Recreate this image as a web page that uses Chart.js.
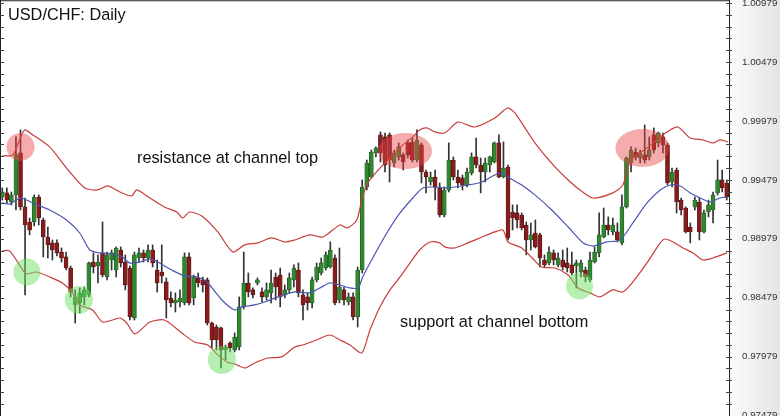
<!DOCTYPE html>
<html>
<head>
<meta charset="utf-8">
<script src="https://cdn.jsdelivr.net/npm/chart.js@4.4.1/dist/chart.umd.min.js"></script>
<style>
  html, body { margin: 0; padding: 0; background: #fff; }
  #wrap { width: 780px; height: 416px; position: relative; }
</style>
</head>
<body>
<div id="wrap"><canvas id="chart"></canvas></div>
<script>
// ── Daily candles (USD/CHF), one entry per day ────────────────────
const open = [
  0.99333, 0.99368, 0.99291, 0.99351, 0.99707, 0.99249, 0.99121, 0.99121, 0.99333, 0.99138,
  0.98994, 0.98944, 0.98944, 0.98867, 0.98825, 0.98731, 0.98418, 0.98435, 0.98486, 0.98503,
  0.98782, 0.98748, 0.98859, 0.98655, 0.98799, 0.98714, 0.98884, 0.98782, 0.98731, 0.98307,
  0.98816, 0.98859, 0.98816, 0.98884, 0.98714, 0.98697, 0.98613, 0.98477, 0.98435, 0.98443,
  0.98435, 0.98825, 0.98477, 0.98647, 0.98630, 0.98630, 0.98265, 0.98231, 0.98223, 0.98036,
  0.98095, 0.98036, 0.98061, 0.98401, 0.98604, 0.98545, 0.98604, 0.98528, 0.98486, 0.98520,
  0.98655, 0.98672, 0.98503, 0.98545, 0.98630, 0.98714, 0.98503, 0.98486, 0.98435, 0.98630,
  0.98689, 0.98731, 0.98740, 0.98816, 0.98460, 0.98545, 0.98443, 0.98486, 0.98316, 0.98714,
  0.99418, 0.99503, 0.99707, 0.99860, 0.99843, 0.99860, 0.99622, 0.99673, 0.99690, 0.99792,
  0.99800, 0.99647, 0.99775, 0.99545, 0.99461, 0.99503, 0.99410, 0.99181, 0.99393, 0.99647,
  0.99503, 0.99495, 0.99435, 0.99537, 0.99673, 0.99605, 0.99545, 0.99605, 0.99630, 0.99792,
  0.99503, 0.99588, 0.99206, 0.99198, 0.99181, 0.99096, 0.98969, 0.99028, 0.99012, 0.98799,
  0.98774, 0.98859, 0.98757, 0.98799, 0.98774, 0.98757, 0.98748, 0.98697, 0.98714, 0.98630,
  0.98782, 0.98859, 0.98994, 0.99096, 0.99037, 0.99037, 0.98944, 0.99249, 0.99622, 0.99715,
  0.99664, 0.99690, 0.99673, 0.99860, 0.99792, 0.99843, 0.99775, 0.99461, 0.99562, 0.99308,
  0.99240, 0.99079, 0.99249, 0.99291, 0.99037, 0.99206, 0.99223, 0.99368, 0.99478, 0.99452
];
const high = [
  0.99410, 0.99410, 0.99376, 0.99843, 0.99902, 0.99325, 0.99155, 0.99351, 0.99351, 0.99155,
  0.99079, 0.98969, 0.98969, 0.98901, 0.98867, 0.98748, 0.98545, 0.98562, 0.98570, 0.98782,
  0.98859, 0.98842, 0.99121, 0.98867, 0.98884, 0.98910, 0.98910, 0.98842, 0.98748, 0.98867,
  0.98901, 0.98884, 0.98927, 0.98927, 0.98799, 0.98927, 0.98647, 0.98528, 0.98520, 0.98545,
  0.98859, 0.98859, 0.98672, 0.98689, 0.98655, 0.98647, 0.98273, 0.98248, 0.98231, 0.98078,
  0.98104, 0.98180, 0.98486, 0.98867, 0.98689, 0.98562, 0.98647, 0.98562, 0.98604, 0.98714,
  0.98689, 0.98731, 0.98587, 0.98689, 0.98757, 0.98774, 0.98545, 0.98520, 0.98655, 0.98774,
  0.98816, 0.98867, 0.98952, 0.98842, 0.98901, 0.98570, 0.98520, 0.98520, 0.98740, 0.99478,
  0.99647, 0.99732, 0.99758, 0.99885, 0.99876, 0.99876, 0.99732, 0.99792, 0.99707, 0.99817,
  0.99834, 0.99902, 0.99792, 0.99562, 0.99545, 0.99562, 0.99452, 0.99418, 0.99792, 0.99673,
  0.99562, 0.99520, 0.99579, 0.99707, 0.99834, 0.99664, 0.99664, 0.99680, 0.99800, 0.99860,
  0.99800, 0.99605, 0.99266, 0.99266, 0.99198, 0.99121, 0.99113, 0.99138, 0.99028, 0.98842,
  0.98910, 0.98884, 0.98859, 0.98884, 0.98901, 0.98867, 0.98799, 0.98799, 0.98740, 0.98867,
  0.98910, 0.99198, 0.99240, 0.99164, 0.99155, 0.99113, 0.99351, 0.99673, 0.99758, 0.99749,
  0.99732, 0.99944, 0.99843, 0.99919, 0.99885, 0.99876, 0.99792, 0.99579, 0.99579, 0.99325,
  0.99249, 0.99113, 0.99333, 0.99325, 0.99223, 0.99308, 0.99376, 0.99647, 0.99562, 0.99478
];
const low = [
  0.99308, 0.99283, 0.99266, 0.99223, 0.99223, 0.98503, 0.99012, 0.99088, 0.99096, 0.98825,
  0.98816, 0.98799, 0.98833, 0.98782, 0.98714, 0.98486, 0.98265, 0.98350, 0.98418, 0.98486,
  0.98689, 0.98604, 0.98655, 0.98630, 0.98714, 0.98655, 0.98740, 0.98545, 0.98290, 0.98290,
  0.98782, 0.98782, 0.98782, 0.98740, 0.98528, 0.98604, 0.98307, 0.98401, 0.98358, 0.98401,
  0.98418, 0.98418, 0.98418, 0.98570, 0.98528, 0.98248, 0.98053, 0.98036, 0.97883, 0.97951,
  0.98019, 0.98019, 0.98036, 0.98384, 0.98486, 0.98477, 0.98587, 0.98443, 0.98460, 0.98435,
  0.98460, 0.98401, 0.98477, 0.98520, 0.98570, 0.98486, 0.98290, 0.98375, 0.98392, 0.98613,
  0.98672, 0.98714, 0.98731, 0.98418, 0.98435, 0.98418, 0.98418, 0.98290, 0.98231, 0.98689,
  0.99393, 0.99495, 0.99673, 0.99630, 0.99545, 0.99461, 0.99588, 0.99647, 0.99562, 0.99664,
  0.99630, 0.99630, 0.99452, 0.99368, 0.99435, 0.99308, 0.99164, 0.99164, 0.99376, 0.99478,
  0.99410, 0.99393, 0.99418, 0.99520, 0.99579, 0.99368, 0.99461, 0.99545, 0.99622, 0.99495,
  0.99495, 0.98969, 0.99054, 0.99071, 0.99054, 0.98842, 0.98884, 0.98901, 0.98740, 0.98740,
  0.98757, 0.98757, 0.98740, 0.98714, 0.98697, 0.98672, 0.98562, 0.98655, 0.98613, 0.98613,
  0.98774, 0.98825, 0.98986, 0.99012, 0.99012, 0.98952, 0.98927, 0.99240, 0.99545, 0.99647,
  0.99622, 0.99622, 0.99647, 0.99707, 0.99758, 0.99707, 0.99435, 0.99418, 0.99198, 0.99181,
  0.99028, 0.98944, 0.99223, 0.98969, 0.99028, 0.99164, 0.99113, 0.99351, 0.99376, 0.99308
];
const close = [
  0.99376, 0.99308, 0.99351, 0.99690, 0.99249, 0.99096, 0.99054, 0.99333, 0.99155, 0.98994,
  0.98927, 0.98884, 0.98859, 0.98816, 0.98731, 0.98528, 0.98486, 0.98520, 0.98545, 0.98774,
  0.98740, 0.98782, 0.98672, 0.98842, 0.98859, 0.98901, 0.98774, 0.98587, 0.98316, 0.98842,
  0.98859, 0.98816, 0.98884, 0.98774, 0.98604, 0.98664, 0.98460, 0.98435, 0.98460, 0.98477,
  0.98825, 0.98435, 0.98655, 0.98604, 0.98587, 0.98265, 0.98121, 0.98121, 0.98036, 0.98061,
  0.98053, 0.98146, 0.98401, 0.98604, 0.98528, 0.98503, 0.98630, 0.98486, 0.98545, 0.98604,
  0.98570, 0.98486, 0.98545, 0.98647, 0.98731, 0.98520, 0.98418, 0.98435, 0.98630, 0.98740,
  0.98774, 0.98842, 0.98884, 0.98435, 0.98570, 0.98460, 0.98486, 0.98316, 0.98714, 0.99418,
  0.99622, 0.99715, 0.99749, 0.99707, 0.99605, 0.99647, 0.99707, 0.99758, 0.99630, 0.99690,
  0.99647, 0.99817, 0.99545, 0.99503, 0.99503, 0.99418, 0.99181, 0.99393, 0.99647, 0.99503,
  0.99452, 0.99435, 0.99545, 0.99673, 0.99605, 0.99545, 0.99622, 0.99673, 0.99792, 0.99503,
  0.99579, 0.98986, 0.99155, 0.99138, 0.99071, 0.98969, 0.99012, 0.98910, 0.98816, 0.98757,
  0.98867, 0.98799, 0.98816, 0.98740, 0.98731, 0.98689, 0.98774, 0.98774, 0.98655, 0.98799,
  0.98867, 0.99012, 0.99096, 0.99054, 0.99096, 0.98969, 0.99249, 0.99664, 0.99732, 0.99673,
  0.99707, 0.99647, 0.99732, 0.99732, 0.99876, 0.99775, 0.99452, 0.99545, 0.99291, 0.99223,
  0.99037, 0.99037, 0.99308, 0.99037, 0.99198, 0.99266, 0.99351, 0.99478, 0.99410, 0.99333
];

// ── Channel (Bollinger-style) lines: [day, price] ─────────────────
const upperBand = [
  [0, 0.99681], [2.3, 0.99690], [3.8, 0.99817], [4.9, 0.99902], [6.7, 0.99860], [10.4, 0.99758],
  [14.1, 0.99579], [18.1, 0.99410], [20.9, 0.99393], [23.1, 0.99427], [25.8, 0.99376], [28.4, 0.99342],
  [29.5, 0.99393], [32.4, 0.99325], [35.6, 0.99249], [38.3, 0.99206], [39.6, 0.99155], [41.1, 0.99206],
  [43.8, 0.99172], [47.3, 0.99037], [50.6, 0.98867], [53.2, 0.98927], [56.1, 0.98944], [59.1, 0.98986],
  [62.0, 0.98952], [64.2, 0.98969], [67.5, 0.99012], [70.4, 0.98994], [74.1, 0.99096], [75.8, 0.99071],
  [77.8, 0.99138], [78.9, 0.99308], [80.2, 0.99452], [82.9, 0.99579], [85.1, 0.99664], [87.9, 0.99775],
  [90.1, 0.99843], [91.6, 0.99902], [93.2, 0.99919], [94.9, 0.99885], [97.1, 0.99876], [100.0, 0.99969],
  [103.7, 0.99927], [108.1, 1.00003], [110.9, 1.00088], [112.5, 1.00046], [116.9, 0.99792], [121.3, 0.99588],
  [124.2, 0.99478], [126.8, 0.99393], [129.7, 0.99325], [134.0, 0.99368], [136.2, 0.99435], [137.3, 0.99588],
  [138.4, 0.99664], [141.5, 0.99749], [144.4, 0.99843], [146.6, 0.99902], [148.3, 0.99927], [151.0, 0.99834],
  [153.8, 0.99817], [156.0, 0.99792], [157.5, 0.99817], [159.3, 0.99800]
];
const midBand = [
  [0, 0.99283], [1.6, 0.99274], [3.1, 0.99308], [4.2, 0.99325], [6.7, 0.99283], [10.4, 0.99223],
  [14.1, 0.99138], [17.0, 0.99028], [19.2, 0.98884], [21.4, 0.98859], [24.2, 0.98850], [26.4, 0.98825],
  [27.9, 0.98774], [30.2, 0.98782], [32.4, 0.98808], [34.1, 0.98782], [37.2, 0.98714], [40.0, 0.98664],
  [42.9, 0.98655], [45.1, 0.98604], [48.2, 0.98460], [51.0, 0.98375], [52.6, 0.98401], [55.4, 0.98418],
  [57.6, 0.98443], [60.5, 0.98486], [64.2, 0.98528], [67.5, 0.98520], [69.7, 0.98562], [71.9, 0.98604],
  [74.1, 0.98587], [76.3, 0.98562], [78.1, 0.98562], [79.1, 0.98655], [81.3, 0.98816], [84.4, 0.99028],
  [87.3, 0.99198], [90.1, 0.99325], [92.3, 0.99410], [94.5, 0.99418], [97.1, 0.99410], [99.3, 0.99418],
  [102.2, 0.99435], [105.3, 0.99461], [108.1, 0.99520], [109.7, 0.99537], [111.0, 0.99503], [114.0, 0.99435],
  [116.9, 0.99351], [120.6, 0.99223], [124.2, 0.99079], [127.5, 0.98944], [129.7, 0.98918], [132.7, 0.98952],
  [135.6, 0.98969], [138.4, 0.99113], [141.5, 0.99283], [144.4, 0.99393], [146.6, 0.99435], [148.8, 0.99427],
  [151.0, 0.99368], [153.2, 0.99325], [155.3, 0.99291], [157.5, 0.99325], [159.3, 0.99333]
];
const lowerBand = [
  [0, 0.98876], [1.6, 0.98876], [4.5, 0.98714], [5.3, 0.98681], [7.5, 0.98697], [10.4, 0.98655],
  [13.2, 0.98604], [15.4, 0.98520], [17.0, 0.98418], [19.8, 0.98375], [22.0, 0.98273], [24.2, 0.98290],
  [25.8, 0.98307], [27.3, 0.98265], [29.1, 0.98172], [32.4, 0.98273], [35.6, 0.98290], [39.4, 0.98180],
  [42.2, 0.98104], [45.1, 0.98078], [47.3, 0.97994], [49.3, 0.97934], [51.0, 0.97917], [53.2, 0.97883],
  [55.4, 0.97926], [58.3, 0.97968], [61.3, 0.97977], [64.2, 0.98061], [65.9, 0.98078], [69.0, 0.98121],
  [71.9, 0.98163], [74.1, 0.98121], [76.3, 0.98078], [78.9, 0.98011], [80.7, 0.98206], [82.9, 0.98401],
  [85.1, 0.98545], [87.3, 0.98655], [89.5, 0.98774], [91.6, 0.98884], [93.9, 0.98952], [96.0, 0.98944],
  [97.1, 0.98910], [99.3, 0.98901], [102.2, 0.98944], [105.3, 0.98994], [108.1, 0.99037], [109.9, 0.99054],
  [111.0, 0.98952], [114.0, 0.98901], [116.3, 0.98816], [118.4, 0.98740], [121.3, 0.98731], [124.2, 0.98672],
  [126.4, 0.98562], [129.0, 0.98520], [131.2, 0.98486], [134.0, 0.98545], [136.2, 0.98528], [138.4, 0.98613],
  [141.5, 0.98774], [144.4, 0.98944], [145.5, 0.98977], [147.2, 0.98952], [149.4, 0.98901], [151.6, 0.98859],
  [153.8, 0.98799], [156.0, 0.98816], [159.1, 0.98859]
];

// price axis labels
const majorTicks = [1.00979, 1.00479, 0.99979, 0.99479, 0.98979, 0.98479, 0.97979, 0.97479];

// highlighted touches: [day, price, 'top' | 'bottom']
const touches = [
  [4.0, 0.99758, 'top'], [88.4, 0.99723, 'top'], [140.5, 0.99749, 'top'],
  [5.4, 0.98697, 'bottom'], [16.8, 0.98460, 'bottom'], [48.2, 0.97951, 'bottom'], [126.7, 0.98579, 'bottom']
];
const touchSize = [[14, 14], [27, 18], [27, 19], [13.5, 13.5], [14, 14], [14, 14], [13.5, 13.5]];

// ── Build datasets ────────────────────────────────────────────────
const up = open.map((o, i) => close[i] >= o);
const wickData = open.map((o, i) => ({ x: i, y: [low[i], high[i]] }));
const bodyData = open.map((o, i) => ({ x: i, y: [o, close[i]] }));
const toXY = arr => arr.map(([d, p]) => ({ x: d, y: p }));

const FONT = '"Liberation Sans", Arial, sans-serif';

// ── Frame, highlights and text ────────────────────────────────────
const decor = {
  id: 'decor',
  beforeDraw(chart) {
    const { ctx, chartArea: a, width, height } = chart;
    ctx.save();
    ctx.fillStyle = '#fff';
    ctx.fillRect(0, 0, width, height);
    const g = ctx.createLinearGradient(a.right, 0, width, 0);
    g.addColorStop(0, '#fcfcfc');
    g.addColorStop(1, '#e4e4e4');
    ctx.fillStyle = g;
    ctx.fillRect(a.right, 0, width - a.right, height);
    ctx.restore();
  },
  afterDatasetsDraw(chart) {
    const { ctx, scales: { x, y } } = chart;
    ctx.save();
    touches.forEach(([d, p, kind], i) => {
      ctx.beginPath();
      ctx.ellipse(x.getPixelForValue(d), y.getPixelForValue(p), touchSize[i][0], touchSize[i][1], 0, 0, Math.PI * 2);
      ctx.fillStyle = kind === 'top' ? 'rgba(236,72,72,0.45)' : 'rgba(110,226,100,0.5)';
      ctx.fill();
    });
    ctx.restore();
  },
  afterDraw(chart) {
    const { ctx, chartArea: a, scales: { y }, height } = chart;
    ctx.save();
    // borders
    ctx.strokeStyle = '#222';
    ctx.lineWidth = 1;
    ctx.beginPath();
    ctx.moveTo(0, 0.75); ctx.lineTo(a.right, 0.75);
    ctx.moveTo(0.5, 0); ctx.lineTo(0.5, height);
    ctx.moveTo(a.right + 0.5, 0); ctx.lineTo(a.right + 0.5, height);
    ctx.stroke();
    // tick marks, left edge and price axis
    ctx.strokeStyle = '#444';
    ctx.beginPath();
    y.ticks.forEach(t => {
      const py = Math.round(y.getPixelForValue(t.value)) + 0.5;
      ctx.moveTo(0, py); ctx.lineTo(4, py);
      ctx.moveTo(a.right - 3, py); ctx.lineTo(a.right + 3, py);
    });
    ctx.stroke();
    // texts
    ctx.fillStyle = '#111';
    ctx.textBaseline = 'alphabetic';
    ctx.textAlign = 'left';
    ctx.font = '16.3px ' + FONT;
    ctx.fillText('USD/CHF: Daily', 8, 20);
    ctx.fillText('resistance at channel top', 137, 163);
    ctx.fillText('support at channel bottom', 400, 327);
    ctx.restore();
  }
};

new Chart(document.getElementById('chart').getContext('2d'), {
  type: 'bar',
  data: {
    datasets: [
      {
        label: 'Upper',
        type: 'line',
        data: toXY(upperBand),
        borderColor: '#c83c3c',
        borderWidth: 1.2,
        pointRadius: 0,
        tension: 0.25,
        order: 1
      },
      {
        label: 'Middle',
        type: 'line',
        data: toXY(midBand),
        borderColor: '#4a56b0',
        borderWidth: 1.2,
        pointRadius: 0,
        tension: 0.25,
        order: 1
      },
      {
        label: 'Lower',
        type: 'line',
        data: toXY(lowerBand),
        borderColor: '#c83c3c',
        borderWidth: 1.2,
        pointRadius: 0,
        tension: 0.25,
        order: 1
      },
      {
        label: 'Wick',
        data: wickData,
        backgroundColor: '#333',
        barThickness: 1,
        grouped: false,
        order: 3
      },
      {
        label: 'Body',
        data: bodyData,
        backgroundColor: up.map(u => u ? '#2f872f' : '#861c1c'),
        borderColor: up.map(u => u ? '#1c501c' : '#4e0e0e'),
        borderWidth: 0.6,
        borderSkipped: false,
        barThickness: 4,
        grouped: false,
        order: 2
      }
    ]
  },
  options: {
    responsive: true,
    maintainAspectRatio: false,
    animation: false,
    layout: { padding: 0 },
    plugins: { legend: { display: false }, tooltip: { enabled: false } },
    scales: {
      x: {
        type: 'linear',
        min: -0.5,
        max: 159.5,
        offset: false,
        display: false
      },
      y: {
        position: 'right',
        min: 0.97476,
        max: 1.01004,
        grid: { display: false, drawTicks: false },
        border: { display: false },
        afterBuildTicks(scale) {
          const vals = [];
          for (let k = 0; k <= 35; k++) vals.push(+(0.97479 + k * 0.001).toFixed(5));
          scale.ticks = vals.map(value => ({ value }));
        },
        afterFit(scale) {
          scale.width = 51;
          scale.paddingTop = 0;
          scale.paddingBottom = 0;
        },
        ticks: {
          autoSkip: false,
          padding: 13,
          color: '#333',
          font: { family: FONT, size: 9.8 },
          callback: v => majorTicks.some(m => Math.abs(m - v) < 1e-7) ? v.toFixed(5) : ''
        }
      }
    }
  },
  plugins: [decor]
});
</script>
</body>
</html>
